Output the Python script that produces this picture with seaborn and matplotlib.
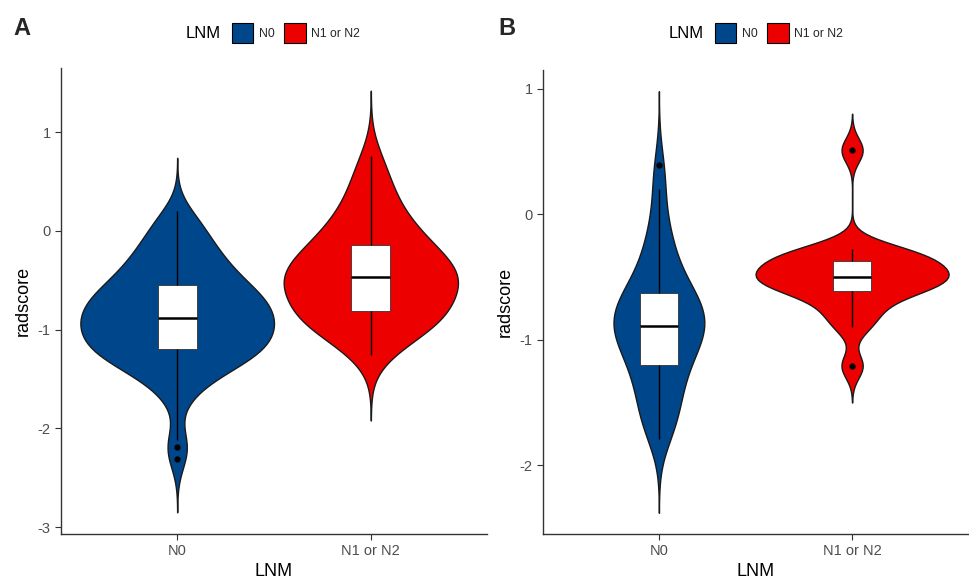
import matplotlib
matplotlib.use("Agg")
import matplotlib.pyplot as plt
import seaborn as sns
import pandas as pd
from matplotlib.patches import Patch

groups = ["N0", "N1 or N2"]
colors = ["#00468B", "#ED0000"]

# panel A radscores
a_n0 = [-2.31, -2.19, -2.12,
        -1.74, -1.62, -1.55, -1.50, -1.46, -1.42, -1.39, -1.36, -1.34, -1.32,
        -1.30, -1.28, -1.26, -1.25, -1.23, -1.22, -1.20,
        -1.19, -1.17, -1.15, -1.14, -1.12, -1.10, -1.09, -1.07, -1.05, -1.04,
        -1.02, -1.00, -0.99, -0.97, -0.96, -0.94, -0.93, -0.92, -0.90, -0.89,
        -0.87, -0.85, -0.84, -0.82, -0.81, -0.79, -0.77, -0.76, -0.74, -0.72,
        -0.71, -0.69, -0.67, -0.66, -0.64, -0.62, -0.61, -0.59, -0.58, -0.56,
        -0.52, -0.50, -0.47, -0.45, -0.42, -0.40, -0.37, -0.34, -0.31, -0.28,
        -0.25, -0.21, -0.17, -0.13, -0.09, -0.04, 0.01, 0.07, 0.13, 0.20]
a_n1 = [-1.26, -1.17, -1.10, -1.05, -1.01, -0.97, -0.94, -0.91, -0.89, -0.87,
        -0.85, -0.83, -0.82,
        -0.79, -0.75, -0.71, -0.67, -0.64, -0.61, -0.58, -0.56, -0.54, -0.52,
        -0.50, -0.48,
        -0.46, -0.44, -0.42, -0.40, -0.38, -0.35, -0.32, -0.29, -0.26, -0.23,
        -0.20, -0.17,
        -0.13, -0.09, -0.05, -0.01, 0.04, 0.09, 0.15, 0.22, 0.30, 0.39,
        0.49, 0.61, 0.76]

# panel B radscores
b_n0 = [-1.79, -1.72, -1.65, -1.58, -1.52, -1.46, -1.40, -1.34, -1.28, -1.23,
        -1.19, -1.15, -1.11, -1.07, -1.03, -1.00, -0.97, -0.94, -0.92, -0.90,
        -0.88, -0.86, -0.83, -0.80, -0.77, -0.74, -0.71, -0.68, -0.65, -0.64,
        -0.60, -0.54, -0.48, -0.41, -0.34, -0.26, -0.16, -0.03, 0.20, 0.39]
b_n1 = [-1.21, -0.90, -0.80, -0.72, -0.63, -0.61, -0.58, -0.55, -0.53, -0.51,
        -0.49, -0.47, -0.44, -0.41, -0.38, -0.34, -0.32, -0.30, -0.28, 0.51]

# kde bandwidth (radscore units) and violin width for each group
a_bw = [0.18, 0.22]
b_bw = [0.197, 0.097]
a_width = [1.0, 0.9]
b_width = [0.47, 1.0]


def make_df(n0, n1):
    return pd.DataFrame({
        "LNM": ["N0"] * len(n0) + ["N1 or N2"] * len(n1),
        "radscore": n0 + n1,
    })


def draw_panel(ax, df, bws, widths, ylim, yticks):
    for g, col, bw, w in zip(groups, colors, bws, widths):
        sub = df[df["LNM"] == g]
        factor = bw / sub["radscore"].std()
        sns.violinplot(data=sub, x="LNM", y="radscore", order=groups,
                       color=col, saturation=1, width=w, bw_method=factor,
                       cut=3, inner=None, linewidth=1.0, linecolor="#1a1a1a",
                       density_norm="width", ax=ax)
    sns.boxplot(data=df, x="LNM", y="radscore", order=groups, width=0.2,
                color="white", saturation=1, linewidth=1.0, linecolor="black",
                showcaps=False, fliersize=3.5,
                flierprops=dict(marker="o", markerfacecolor="black",
                                markeredgecolor="black"),
                medianprops=dict(linewidth=1.8, color="black"),
                boxprops=dict(edgecolor="#333333", linewidth=0.6),
                ax=ax)
    ax.set_xlim(-0.6, 1.6)
    ax.set_ylim(*ylim)
    ax.set_yticks(yticks)
    ax.set_xlabel("LNM", fontsize=13, color="black", labelpad=3)
    ax.set_ylabel("radscore", fontsize=13, color="black")
    ax.tick_params(axis="both", labelsize=10.5, labelcolor="#4D4D4D",
                   color="#333333", length=4, width=0.8)
    for s in ["left", "bottom"]:
        ax.spines[s].set_color("#333333")
        ax.spines[s].set_linewidth(1.0)
    sns.despine(ax=ax)


sns.set_theme(style="ticks")
plt.rcParams["font.family"] = ["Liberation Sans", "DejaVu Sans"]
plt.rcParams["axes.unicode_minus"] = False

fig = plt.figure(figsize=(9.7, 5.8), dpi=100)
ax_a = fig.add_axes([61 / 970, 46 / 580, 426 / 970, 466 / 580])
ax_b = fig.add_axes([543 / 970, 46 / 580, 425 / 970, 464 / 580])

draw_panel(ax_a, make_df(a_n0, a_n1), a_bw, a_width, (-3.07, 1.65), [-3, -2, -1, 0, 1])
draw_panel(ax_b, make_df(b_n0, b_n1), b_bw, b_width, (-2.55, 1.15), [-2, -1, 0, 1])

# legends on top, title to the left of the keys
handles = [Patch(facecolor=c, edgecolor="black", linewidth=0.8) for c in colors]
for ax, cx, tx in [(ax_a, 296, 221), (ax_b, 779, 704)]:
    ax.legend(handles, groups, ncol=2, frameon=False, fontsize=8.8,
              loc="center", bbox_to_anchor=(cx / 970, 1 - 33 / 580),
              bbox_transform=fig.transFigure, handlelength=1.75,
              handleheight=2.2, handletextpad=0.45, columnspacing=0.8,
              borderpad=0)
    fig.text(tx / 970, 1 - 33 / 580, "LNM", fontsize=12, ha="right",
             va="center", color="black")

fig.text(13 / 970, 1 - 35 / 580, "A", fontsize=17, fontweight="bold", va="baseline")
fig.text(498 / 970, 1 - 35 / 580, "B", fontsize=17, fontweight="bold", va="baseline")

fig.savefig("out.png", dpi=100)
